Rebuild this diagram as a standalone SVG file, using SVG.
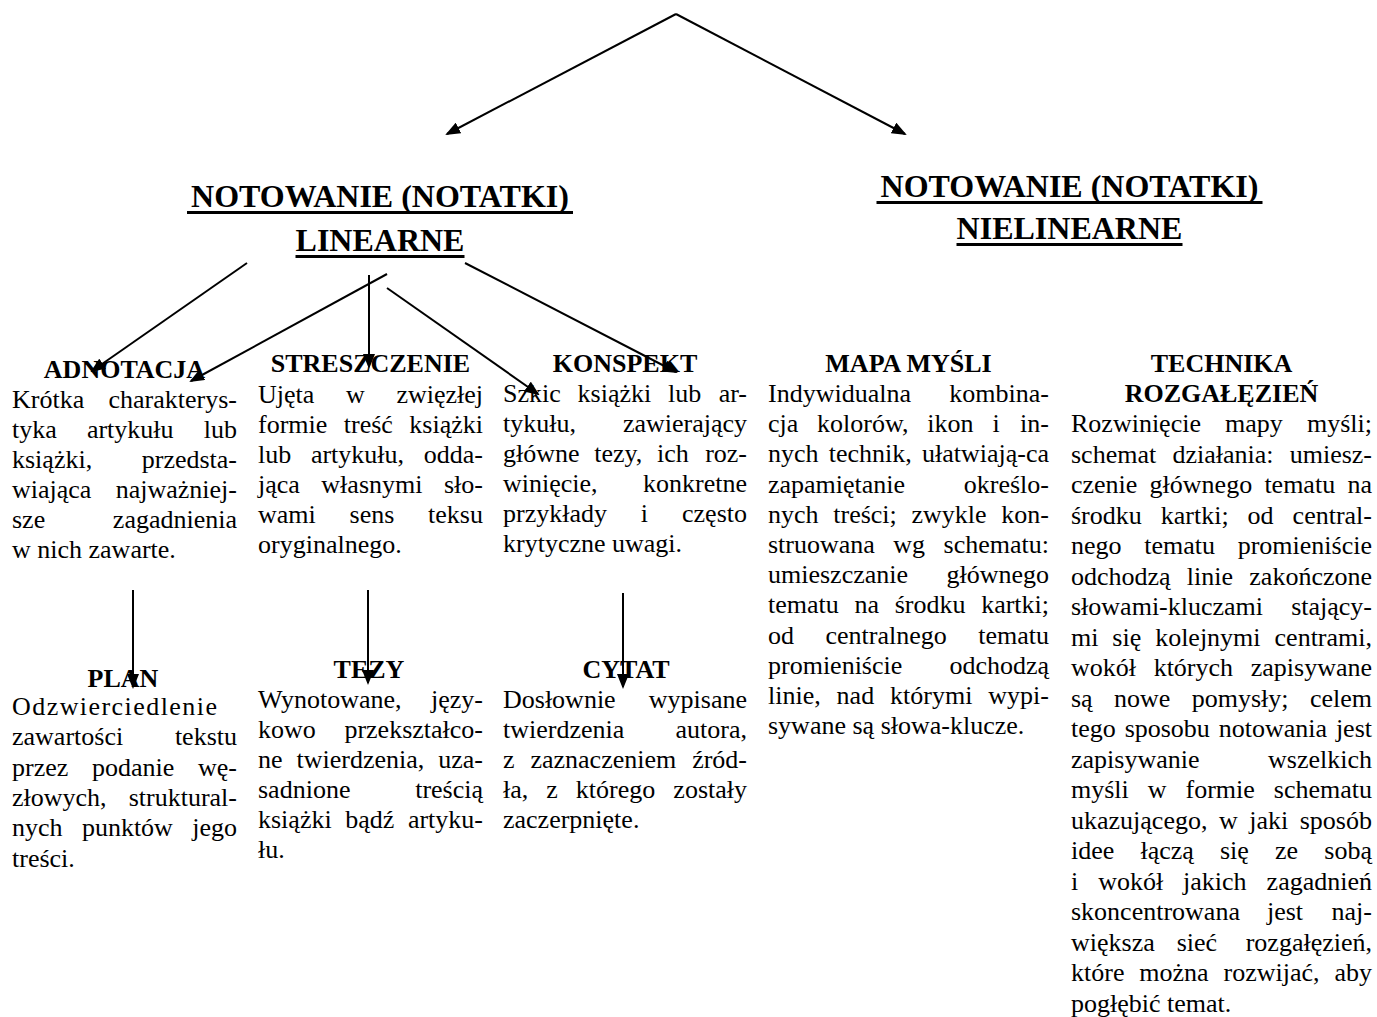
<svg xmlns="http://www.w3.org/2000/svg" width="1377" height="1017" viewBox="0 0 1377 1017">
<style>
text{font-family:"Liberation Serif","Times New Roman",serif;fill:#000}
.b{font-size:26px}
.h{font-size:26px;font-weight:bold;text-anchor:middle}
.t{font-size:32px;font-weight:bold;text-anchor:middle}
.e{text-anchor:end}
.c line{stroke:#000;stroke-width:2;marker-end:url(#ah)}
</style>
<defs>
<marker id="ah" markerWidth="15" markerHeight="12" refX="13" refY="6" orient="auto" markerUnits="userSpaceOnUse"><path d="M0,0 L15,6 L0,12 z" fill="#000"/></marker>
</defs>
<rect width="1377" height="1017" fill="#fff"/>

<g id="connectors" class="c">
<line x1="676" y1="14" x2="447" y2="134"/>
<line x1="676" y1="14" x2="905" y2="134"/>
<line x1="247" y1="263" x2="92" y2="371"/>
<line x1="387" y1="274" x2="191" y2="381"/>
<line x1="369" y1="275" x2="369" y2="367"/>
<line x1="387" y1="288" x2="538" y2="394"/>
<line x1="465" y1="263" x2="676" y2="372"/>
<line x1="133" y1="590" x2="133" y2="687"/>
<line x1="368" y1="590" x2="368" y2="683"/>
<line x1="623" y1="593" x2="623" y2="687"/>
</g>

<g id="title-linear">
<text class="t" x="380" y="207">NOTOWANIE (NOTATKI)</text>
<text class="t" x="380" y="251">LINEARNE</text>
<rect x="187" y="211" width="386" height="3"/>
<rect x="295.5" y="255" width="169" height="3"/>
</g>

<g id="title-nonlinear">
<text class="t" x="1069.5" y="197">NOTOWANIE (NOTATKI)</text>
<text class="t" x="1069.5" y="239">NIELINEARNE</text>
<rect x="876.5" y="201" width="386" height="3"/>
<rect x="956.5" y="243" width="226" height="3"/>
</g>

<g id="adnotacja">
<text class="h" x="124.5" y="378">ADNOTACJA</text>
<text class="b" y="408"><tspan x="12">Krótka</tspan><tspan x="237" class="e">charakterys-</tspan></text>
<text class="b" y="438"><tspan x="12" word-spacing="23.65">tyka artykułu</tspan><tspan x="237" class="e">lub</tspan></text>
<text class="b" y="468"><tspan x="12">książki,</tspan><tspan x="237" class="e">przedsta-</tspan></text>
<text class="b" y="498"><tspan x="12">wiająca</tspan><tspan x="237" class="e">najważniej-</tspan></text>
<text class="b" y="528"><tspan x="12">sze</tspan><tspan x="237" class="e">zagadnienia</tspan></text>
<text class="b" x="12" y="558">w nich zawarte.</text>
</g>

<g id="plan">
<text class="h" x="123" y="687">PLAN</text>
<text class="b" x="12" y="715" textLength="205" lengthAdjust="spacing">Odzwierciedlenie</text>
<text class="b" y="745"><tspan x="12">zawartości</tspan><tspan x="237" class="e">tekstu</tspan></text>
<text class="b" y="776"><tspan x="12" word-spacing="17.2">przez podanie</tspan><tspan x="237" class="e">wę-</tspan></text>
<text class="b" y="806"><tspan x="12">złowych,</tspan><tspan x="237" class="e">struktural-</tspan></text>
<text class="b" y="836"><tspan x="12" word-spacing="12.85">nych punktów</tspan><tspan x="237" class="e">jego</tspan></text>
<text class="b" x="12" y="867">treści.</text>
</g>

<g id="streszczenie">
<text class="h" x="370.5" y="372">STRESZCZENIE</text>
<text class="b" y="403"><tspan x="258" word-spacing="25.15">Ujęta w</tspan><tspan x="483" class="e">zwięzłej</tspan></text>
<text class="b" y="433"><tspan x="258" word-spacing="9.95">formie treść</tspan><tspan x="483" class="e">książki</tspan></text>
<text class="b" y="463"><tspan x="258" word-spacing="13.2">lub artykułu,</tspan><tspan x="483" class="e">odda-</tspan></text>
<text class="b" y="493"><tspan x="258" word-spacing="15">jąca własnymi</tspan><tspan x="483" class="e">sło-</tspan></text>
<text class="b" y="523"><tspan x="258" word-spacing="27.3">wami sens</tspan><tspan x="483" class="e">teksu</tspan></text>
<text class="b" x="258" y="553">oryginalnego.</text>
</g>

<g id="tezy">
<text class="h" x="369" y="678">TEZY</text>
<text class="b" y="708"><tspan x="258">Wynotowane,</tspan><tspan x="483" class="e">języ-</tspan></text>
<text class="b" y="738"><tspan x="258">kowo</tspan><tspan x="483" class="e">przekształco-</tspan></text>
<text class="b" y="768"><tspan x="258" word-spacing="7.45">ne twierdzenia,</tspan><tspan x="483" class="e">uza-</tspan></text>
<text class="b" y="798"><tspan x="258">sadnione</tspan><tspan x="483" class="e">treścią</tspan></text>
<text class="b" y="828"><tspan x="258" word-spacing="7.1">książki bądź</tspan><tspan x="483" class="e">artyku-</tspan></text>
<text class="b" x="258" y="858">łu.</text>
</g>

<g id="konspekt">
<text class="h" x="625" y="372">KONSPEKT</text>
<text class="b" y="402"><tspan x="503" word-spacing="10.33">Szkic książki lub</tspan><tspan x="747" class="e">ar-</tspan></text>
<text class="b" y="432"><tspan x="503">tykułu,</tspan><tspan x="747" class="e">zawierający</tspan></text>
<text class="b" y="462"><tspan x="503" word-spacing="8.17">główne tezy, ich</tspan><tspan x="747" class="e">roz-</tspan></text>
<text class="b" y="492"><tspan x="503">winięcie,</tspan><tspan x="747" class="e">konkretne</tspan></text>
<text class="b" y="522"><tspan x="503" word-spacing="27.4">przykłady i</tspan><tspan x="747" class="e">często</tspan></text>
<text class="b" x="503" y="552">krytyczne uwagi.</text>
</g>

<g id="cytat">
<text class="h" x="626" y="678">CYTAT</text>
<text class="b" y="708"><tspan x="503">Dosłownie</tspan><tspan x="747" class="e">wypisane</tspan></text>
<text class="b" y="738"><tspan x="503">twierdzenia</tspan><tspan x="747" class="e">autora,</tspan></text>
<text class="b" y="768"><tspan x="503" word-spacing="9.4">z zaznaczeniem</tspan><tspan x="747" class="e">źród-</tspan></text>
<text class="b" y="798"><tspan x="503" word-spacing="11.53">ła, z którego</tspan><tspan x="747" class="e">zostały</tspan></text>
<text class="b" x="503" y="828">zaczerpnięte.</text>
</g>

<g id="mapa-mysli">
<text class="h" x="908.5" y="372">MAPA MYŚLI</text>
<text class="b" y="402"><tspan x="768">Indywidualna</tspan><tspan x="1049" class="e">kombina-</tspan></text>
<text class="b" y="432"><tspan x="768" word-spacing="12.3">cja kolorów, ikon i</tspan><tspan x="1049" class="e">in-</tspan></text>
<text class="b" y="462"><tspan x="768" word-spacing="3.7">nych technik,</tspan><tspan x="1049" class="e">ułatwiają-ca</tspan></text>
<text class="b" y="493"><tspan x="768">zapamiętanie</tspan><tspan x="1049" class="e">określo-</tspan></text>
<text class="b" y="523"><tspan x="768" word-spacing="8.23">nych treści; zwykle</tspan><tspan x="1049" class="e">kon-</tspan></text>
<text class="b" y="553"><tspan x="768" word-spacing="11.95">struowana wg</tspan><tspan x="1049" class="e">schematu:</tspan></text>
<text class="b" y="583"><tspan x="768">umieszczanie</tspan><tspan x="1049" class="e">głównego</tspan></text>
<text class="b" y="613"><tspan x="768" word-spacing="9.17">tematu na środku</tspan><tspan x="1049" class="e">kartki;</tspan></text>
<text class="b" y="644"><tspan x="768" word-spacing="24.95">od centralnego</tspan><tspan x="1049" class="e">tematu</tspan></text>
<text class="b" y="674"><tspan x="768">promieniście</tspan><tspan x="1049" class="e">odchodzą</tspan></text>
<text class="b" y="704"><tspan x="768" word-spacing="9.4">linie, nad którymi</tspan><tspan x="1049" class="e">wypi-</tspan></text>
<text class="b" x="768" y="734">sywane są słowa-klucze.</text>
</g>

<g id="technika-rozgalezien">
<text class="h" x="1221.5" y="372">TECHNIKA</text>
<text class="h" x="1221.5" y="402">ROZGAŁĘZIEŃ</text>
<text class="b" y="432"><tspan x="1071" word-spacing="17.6">Rozwinięcie mapy</tspan><tspan x="1372" class="e">myśli;</tspan></text>
<text class="b" y="462.5"><tspan x="1071" word-spacing="9.7">schemat działania:</tspan><tspan x="1372" class="e">umiesz-</tspan></text>
<text class="b" y="493"><tspan x="1071" word-spacing="5.73">czenie głównego tematu</tspan><tspan x="1372" class="e">na</tspan></text>
<text class="b" y="523.5"><tspan x="1071" word-spacing="12.47">środku kartki; od</tspan><tspan x="1372" class="e">central-</tspan></text>
<text class="b" y="554"><tspan x="1071" word-spacing="16.2">nego tematu</tspan><tspan x="1372" class="e">promieniście</tspan></text>
<text class="b" y="584.5"><tspan x="1071" word-spacing="9.7">odchodzą linie</tspan><tspan x="1372" class="e">zakończone</tspan></text>
<text class="b" y="615"><tspan x="1071">słowami-kluczami</tspan><tspan x="1372" class="e">stający-</tspan></text>
<text class="b" y="645.5"><tspan x="1071" word-spacing="7.4">mi się kolejnymi</tspan><tspan x="1372" class="e">centrami,</tspan></text>
<text class="b" y="676"><tspan x="1071" word-spacing="11.15">wokół których</tspan><tspan x="1372" class="e">zapisywane</tspan></text>
<text class="b" y="706.5"><tspan x="1071" word-spacing="14.87">są nowe pomysły;</tspan><tspan x="1372" class="e">celem</tspan></text>
<text class="b" y="737"><tspan x="1071" word-spacing="2.37">tego sposobu notowania</tspan><tspan x="1372" class="e">jest</tspan></text>
<text class="b" y="767.5"><tspan x="1071">zapisywanie</tspan><tspan x="1372" class="e">wszelkich</tspan></text>
<text class="b" y="798"><tspan x="1071" word-spacing="12.47">myśli w formie</tspan><tspan x="1372" class="e">schematu</tspan></text>
<text class="b" y="828.5"><tspan x="1071" word-spacing="5.02">ukazującego, w jaki</tspan><tspan x="1372" class="e">sposób</tspan></text>
<text class="b" y="859"><tspan x="1071" word-spacing="19.65">idee łączą się ze</tspan><tspan x="1372" class="e">sobą</tspan></text>
<text class="b" y="889.5"><tspan x="1071" word-spacing="13.43">i wokół jakich</tspan><tspan x="1372" class="e">zagadnień</tspan></text>
<text class="b" y="920"><tspan x="1071" word-spacing="20.55">skoncentrowana jest</tspan><tspan x="1372" class="e">naj-</tspan></text>
<text class="b" y="950.5"><tspan x="1071" word-spacing="15.4">większa sieć</tspan><tspan x="1372" class="e">rozgałęzień,</tspan></text>
<text class="b" y="981"><tspan x="1071" word-spacing="8.4">które można rozwijać,</tspan><tspan x="1372" class="e">aby</tspan></text>
<text class="b" x="1071" y="1011.5">pogłębić temat.</text>
</g>
</svg>
